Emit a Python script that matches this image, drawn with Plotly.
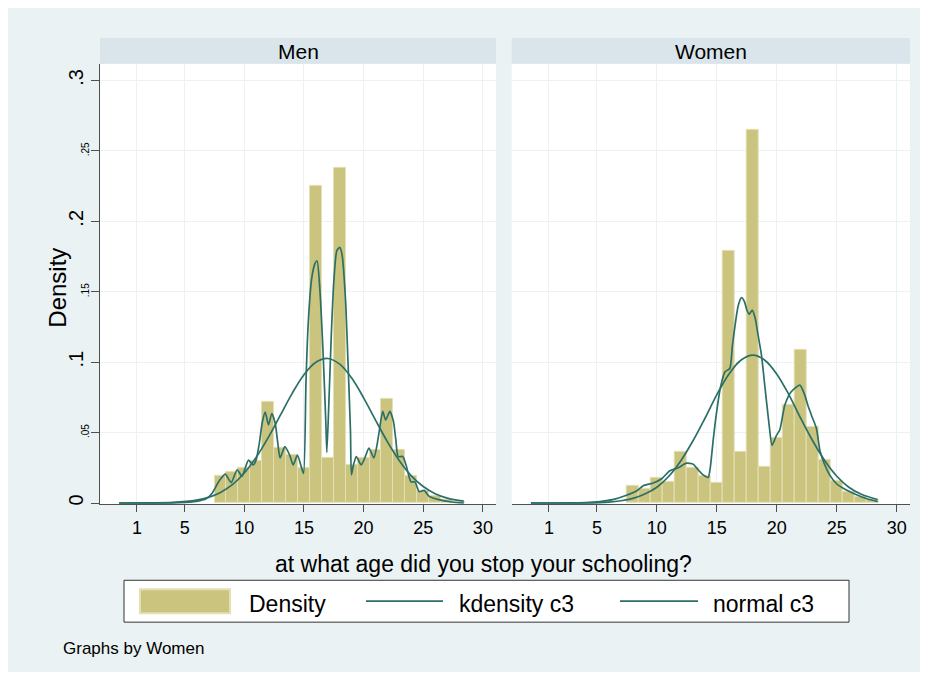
import plotly.graph_objects as go

# histogram (density per 1-year bin)
ages = [8, 9, 10, 11, 12, 13, 14, 15, 16, 17, 18, 19, 20, 21, 22, 23, 24, 25, 26, 27, 28]
men_density = [0.019, 0.022, 0.025, 0.030, 0.072, 0.039, 0.034, 0.025, 0.225, 0.032, 0.238,
               0.027, 0.032, 0.038, 0.074, 0.038, 0.019, 0.009, 0.005, 0.0025, 0.001]
women_density = [0.0125, 0.010, 0.018, 0.015, 0.036, 0.025, 0.019, 0.014, 0.179, 0.036, 0.265,
                 0.026, 0.046, 0.070, 0.1085, 0.054, 0.031, 0.016, 0.008, 0.0047, 0.0024]

# kernel density curves
men_kd_x = [-0.5, 4.5, 6.0, 6.8, 7.3, 7.7, 8.0, 8.4, 8.9, 9.4, 9.8, 10.35, 10.75, 11.0, 11.25,
            11.5, 11.75, 12.03, 12.3, 12.58, 12.8, 13.0, 13.4, 13.8, 14.1, 14.45, 14.8, 14.97,
            15.17, 15.36, 15.64, 15.92, 16.1, 16.33, 16.6, 16.83, 16.92, 17.1, 17.3, 17.5, 17.75,
            18.0, 18.2, 18.48, 18.7, 18.9, 18.98, 19.15, 19.39, 19.8, 20.1, 20.45, 20.86, 21.1,
            21.33, 21.6, 21.85, 22.2, 22.5, 22.7, 22.9, 23.28, 23.56, 23.97, 24.3, 24.67, 25.08,
            25.5, 26.3, 27.4, 28.4]
men_kd_y = [0.0, 0.0003, 0.0012, 0.003, 0.007, 0.013, 0.017, 0.0205, 0.0145, 0.0236, 0.019,
            0.0305, 0.027, 0.031, 0.042, 0.057, 0.0645, 0.0555, 0.0635, 0.057, 0.043, 0.032,
            0.040, 0.034, 0.027, 0.034, 0.025, 0.021, 0.086, 0.128, 0.159, 0.170, 0.172, 0.152,
            0.107, 0.058, 0.036, 0.074, 0.121, 0.157, 0.179, 0.1815, 0.176, 0.145, 0.098, 0.051,
            0.020, 0.027, 0.033, 0.027, 0.032, 0.039, 0.032, 0.040, 0.052, 0.065, 0.059, 0.065,
            0.058, 0.045, 0.033, 0.033, 0.027, 0.015, 0.015, 0.008, 0.009, 0.0047, 0.0024,
            0.0007, 0.0]

women_kd_x = [-0.5, 4.0, 5.25, 6.5, 7.47, 8.3, 8.86, 9.7, 10.4, 11.08, 11.78, 12.47, 13.03,
              13.44, 13.86, 14.28, 14.45, 14.7, 14.97, 15.3, 15.67, 16.08, 16.3, 16.55, 16.78,
              17.05, 17.3, 17.5, 17.7, 17.95, 18.2, 18.44, 18.72, 18.95, 19.14, 19.35, 19.6,
              19.97, 20.25, 20.67, 21.2, 21.92, 22.33, 22.6, 22.9, 23.3, 23.6, 24.0, 24.4, 25.0,
              25.5, 26.6, 27.5, 28.4]
women_kd_y = [0.0, 0.0003, 0.001, 0.0028, 0.0055, 0.0085, 0.0123, 0.0142, 0.0172, 0.0229,
              0.025, 0.0283, 0.0276, 0.0236, 0.020, 0.0182, 0.025, 0.045, 0.064, 0.082, 0.093,
              0.0955, 0.112, 0.128, 0.140, 0.1458, 0.143, 0.137, 0.134, 0.137, 0.131, 0.119,
              0.105, 0.087, 0.072, 0.056, 0.041, 0.048, 0.052, 0.0696, 0.079, 0.0837, 0.0766,
              0.069, 0.062, 0.053, 0.037, 0.027, 0.020, 0.0135, 0.0106, 0.006, 0.003, 0.001]

# normal curves
norm_x = [-0.5, 2, 4, 6, 7, 8, 9, 10, 11, 12, 13, 14, 15, 16, 17, 18, 19, 20, 21, 22, 23, 24,
          25, 26, 27, 28.4]
men_norm_y = [0.0, 0.0001, 0.0004, 0.002, 0.004, 0.0075, 0.013, 0.0213, 0.0325, 0.0464, 0.062,
              0.0777, 0.0911, 0.0999, 0.1026, 0.0986, 0.0887, 0.0747, 0.0589, 0.0434, 0.030,
              0.0193, 0.0117, 0.0066, 0.0035, 0.0013]
women_norm_y = [0.0, 0.0, 0.0001, 0.0007, 0.0016, 0.0033, 0.0064, 0.0112, 0.019, 0.030, 0.044,
                0.060, 0.077, 0.0915, 0.1014, 0.105, 0.1014, 0.0915, 0.077, 0.060, 0.044, 0.030,
                0.019, 0.0112, 0.0064, 0.0025]

panels = ["Men", "Women"]
legend_labels = ["Density", "kdensity c3", "normal c3"]
x_ticks = [1, 5, 10, 15, 20, 25, 30]
y_major = [0, 0.1, 0.2, 0.3]
y_major_text = ["0", ".1", ".2", ".3"]
y_minor = [0.05, 0.15, 0.25]
y_minor_text = [".05", ".15", ".25"]

BAR = "#cbc47e"
BAR_EDGE = "#e4e0b6"
LINE = "#2b6f67"
BG = "#eaf2f3"
STRIP = "#d9e5ea"
AXIS = "#505050"
FONT = "Liberation Sans, Arial, sans-serif"
W, H = 912, 664
OFF = 8  # page margin around the figure


def px(x):
    return (x - OFF) / W


def py(y):
    return (H - (y - OFF)) / H


fig = go.Figure()
series = [(men_density, men_kd_x, men_kd_y, men_norm_y), (women_density, women_kd_x, women_kd_y, women_norm_y)]
for i, (dens, kx, ky, ny) in enumerate(series):
    xa, ya = ("x", "y") if i == 0 else ("x2", "y2")
    fig.add_trace(go.Bar(x=ages, y=dens, width=1.0, marker=dict(color=BAR, line=dict(color=BAR_EDGE, width=1)),
                         xaxis=xa, yaxis=ya, name=legend_labels[0], showlegend=False))
    fig.add_trace(go.Scatter(x=kx, y=ky, mode="lines", line=dict(color=LINE, width=1.7, shape="spline", smoothing=0.6),
                             xaxis=xa, yaxis=ya, name=legend_labels[1], showlegend=False))
    fig.add_trace(go.Scatter(x=norm_x, y=ny, mode="lines", line=dict(color=LINE, width=1.7, shape="spline"),
                             xaxis=xa, yaxis=ya, name=legend_labels[2], showlegend=False))
# holder for the small minor labels
fig.add_trace(go.Scatter(x=[], y=[], xaxis="x", yaxis="y3", showlegend=False))

x_range = [-2.1, 31.1]
y_range = [-0.0007, 0.3118]
y_dom = [py(505.5), py(64)]
xcommon = dict(range=x_range, tickvals=x_ticks, ticks="outside", ticklen=7, tickcolor=AXIS,
               showline=True, linecolor=AXIS, linewidth=1, showgrid=True, gridcolor=BG, gridwidth=1,
               zeroline=False, tickfont=dict(size=18, color="black"))

fig.update_layout(
    width=W, height=H, autosize=False,
    margin=dict(l=0, r=0, t=0, b=0),
    paper_bgcolor=BG, plot_bgcolor="white",
    font=dict(family=FONT, color="black"),
    bargap=0, showlegend=False,
    xaxis=dict(domain=[px(100), px(496)], anchor="y", **xcommon),
    xaxis2=dict(domain=[px(511.7), px(910)], anchor="y2", **xcommon),
    yaxis=dict(domain=y_dom, range=y_range, anchor="x", tickvals=y_major, ticktext=y_major_text,
               tickangle=-90, ticks="outside", ticklen=8, tickcolor=AXIS, showline=True,
               linecolor=AXIS, linewidth=1, showgrid=True, gridcolor=BG, zeroline=False,
               tickfont=dict(size=20),
               minor=dict(tickvals=y_minor, ticks="outside", ticklen=8, tickcolor=AXIS,
                          showgrid=True, gridcolor=BG)),
    yaxis2=dict(domain=y_dom, range=y_range, anchor="x2", tickvals=y_major + y_minor,
                showticklabels=False, ticks="", showline=False, showgrid=True, gridcolor=BG,
                zeroline=False),
    yaxis3=dict(domain=y_dom, range=y_range, anchor="x", overlaying="y", side="left",
                tickvals=y_minor, ticktext=y_minor_text, tickangle=-90, ticks="", showgrid=False,
                showline=False, zeroline=False, tickfont=dict(size=10), ticklabelstandoff=8),
)

shapes = []
annotations = []
strips = [(100, 496), (511.7, 910)]
for name, (a, b) in zip(panels, strips):
    shapes.append(dict(type="rect", xref="paper", yref="paper", x0=px(a), x1=px(b), y0=py(64), y1=py(38),
                       fillcolor=STRIP, line=dict(width=0)))
    annotations.append(dict(text=name, xref="paper", yref="paper", x=px((a + b) / 2), y=py(52),
                            showarrow=False, font=dict(size=21), xanchor="center", yanchor="middle"))

annotations.append(dict(text="at what age did you stop your schooling?", xref="paper", yref="paper",
                        x=px(484), y=py(566), yanchor="middle", showarrow=False, font=dict(size=23)))
annotations.append(dict(text="Density", xref="paper", yref="paper", x=px(42), y=py(289),
                        yanchor="middle", textangle=-90, showarrow=False, font=dict(size=24)))
annotations.append(dict(text="Graphs by Women", xref="paper", yref="paper", x=px(61), y=py(650),
                        xanchor="left", yanchor="middle", showarrow=False, font=dict(size=17)))

# legend box drawn to look like the Stata key
shapes.append(dict(type="rect", xref="paper", yref="paper", x0=px(124), x1=px(849), y0=py(624), y1=py(582),
                   fillcolor="white", line=dict(color="#333333", width=1)))
shapes.append(dict(type="rect", xref="paper", yref="paper", x0=px(140), x1=px(230), y0=py(615), y1=py(591),
                   fillcolor=BAR, line=dict(color=BAR_EDGE, width=2)))
for a, b in [(366, 443), (620, 698)]:
    shapes.append(dict(type="line", xref="paper", yref="paper", x0=px(a), x1=px(b), y0=py(603), y1=py(603),
                       line=dict(color=LINE, width=1.7)))
for label, left in zip(legend_labels, [247, 457, 711]):
    annotations.append(dict(text=label, xref="paper", yref="paper", x=px(left), y=py(606), xanchor="left",
                            yanchor="middle", showarrow=False, font=dict(size=23)))

fig.update_layout(shapes=shapes, annotations=annotations)
fig.write_html("out.html")
